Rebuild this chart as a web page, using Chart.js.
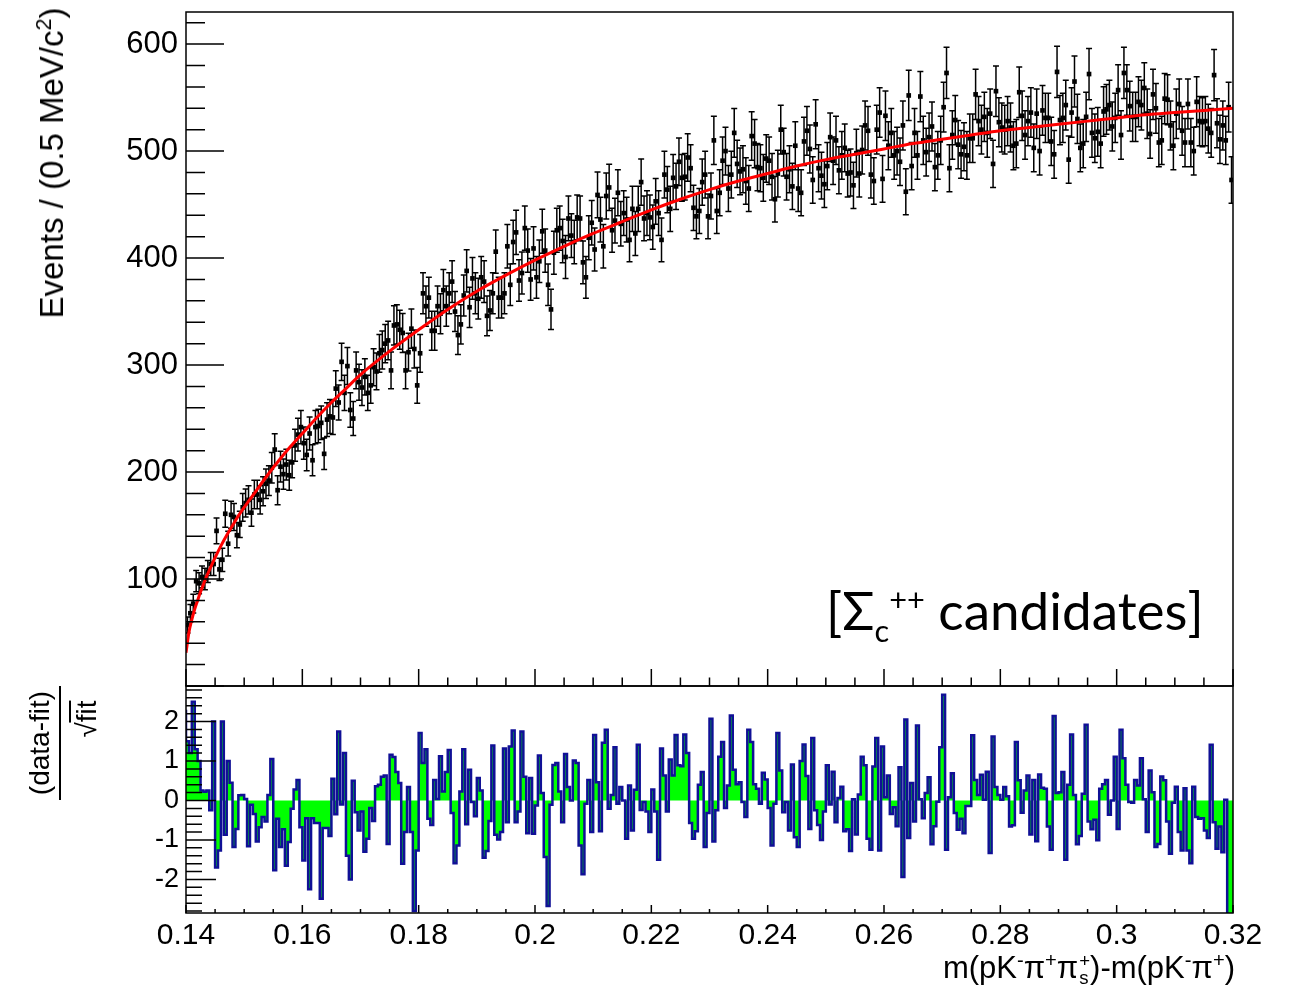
<!DOCTYPE html>
<html>
<head>
<meta charset="utf-8">
<script src="https://cdn.jsdelivr.net/npm/chart.js@4.4.1/dist/chart.umd.min.js"></script>
<style>
  body { margin: 0; background: #fff; }
  #wrap { position: relative; width: 1293px; height: 989px; font-family: "Liberation Sans", Arial, Helvetica, sans-serif; color: #000; }
  .pane { position: absolute; left: 0; }
  .rot { position: absolute; white-space: nowrap; transform: translate(-50%, -50%) rotate(-90deg); }
  sup, sub { font-size: 65%; line-height: 0; }
  .stack { display: inline-block; vertical-align: middle; line-height: 0.9; font-size: 60%; text-align: left; margin-left: 1px; }
</style>
</head>
<body>
<div id="wrap">
  <div class="pane" style="top:0;width:1293px;height:700px"><canvas id="topChart" width="1293" height="700"></canvas></div>
  <div class="pane" style="top:680px;width:1293px;height:309px"><canvas id="pullChart" width="1293" height="309"></canvas></div>

  <div class="rot" style="left:52px;top:163px;font-size:33px">Events / (0.5 MeV/c<sup>2</sup>)</div>

  <div class="rot" style="left:40px;top:743px;font-size:28px">(data-fit)</div>
  <div style="position:absolute;left:59px;top:686px;width:2px;height:114px;background:#000"></div>
  <div class="rot" style="left:87px;top:719px;font-size:28px">&radic;<span style="border-top:2px solid #000">fit</span></div>

  <div style="position:absolute;right:58px;top:950px;font-size:31px;white-space:nowrap">m(pK<sup>-</sup>&pi;<sup>+</sup>&pi;<span class="stack">+<br>s</span>)-m(pK<sup>-</sup>&pi;<sup>+</sup>)</div>

  <div style="position:absolute;left:826px;top:578px;font-family:Lato, 'Open Sans', sans-serif;font-size:53px;white-space:nowrap">[&Sigma;<sub style="font-size:58%">c</sub><sup style="font-size:58%">++</sup> candidates]</div>
</div>

<script>
// binning of the Delta-m histogram
const xMin = 0.14;
const xMax = 0.32;
const binWidth = 0.0005;

// events per bin (360 bins)
const counts = [
  57, 68, 77, 98, 96, 102, 100, 107, 114, 114, 145, 109, 118, 161, 133, 160, 158, 141, 151, 167,
  171, 174, 162, 179, 179, 174, 182, 189, 192, 204, 221, 183, 205, 198, 207, 197, 209, 225, 235, 242,
  227, 216, 236, 211, 242, 243, 246, 217, 249, 252, 251, 278, 265, 303, 274, 299, 258, 250, 295, 284,
  279, 289, 274, 281, 298, 294, 311, 314, 320, 323, 295, 337, 338, 333, 330, 295, 312, 334, 315, 281,
  311, 367, 355, 363, 332, 332, 355, 348, 370, 355, 367, 378, 350, 328, 338, 365, 388, 354, 381, 367,
  362, 382, 378, 346, 351, 367, 406, 363, 363, 367, 411, 375, 415, 424, 379, 386, 428, 407, 380, 409,
  382, 397, 425, 407, 375, 352, 405, 426, 428, 416, 401, 437, 421, 415, 438, 437, 396, 382, 419, 433,
  408, 459, 436, 411, 458, 466, 426, 435, 461, 432, 442, 436, 417, 446, 423, 446, 471, 437, 442, 438,
  429, 453, 442, 417, 478, 464, 446, 475, 467, 490, 475, 476, 494, 484, 447, 439, 444, 471, 478, 439,
  458, 510, 444, 461, 491, 500, 465, 478, 517, 488, 481, 483, 472, 465, 514, 507, 485, 484, 475, 493,
  491, 476, 455, 479, 520, 499, 476, 483, 467, 505, 465, 461, 509, 519, 502, 473, 525, 484, 477, 469,
  486, 513, 491, 510, 482, 496, 503, 479, 480, 468, 498, 479, 501, 524, 519, 478, 472, 520, 536, 474,
  533, 505, 517, 496, 500, 490, 524, 462, 552, 486, 517, 496, 551, 510, 499, 513, 523, 485, 496, 510,
  541, 573, 484, 515, 529, 506, 497, 504, 496, 512, 512, 553, 528, 520, 532, 517, 535, 488, 556, 527,
  522, 520, 528, 522, 505, 507, 555, 533, 515, 528, 536, 503, 535, 500, 538, 531, 531, 509, 497, 574,
  529, 531, 543, 492, 536, 565, 530, 503, 507, 532, 572, 517, 512, 518, 507, 537, 539, 543, 523, 531,
  557, 515, 573, 557, 542, 532, 532, 546, 543, 559, 535, 516, 553, 540, 508, 510, 549, 548, 524, 505,
  535, 544, 519, 508, 544, 508, 500, 546, 528, 527, 528, 521, 517, 571, 526, 511, 524, 510, 541, 473
];

// (data-fit)/sqrt(fit) per bin
const pulls = [
  2.3, 1.5, 1.2, 2.5, 1.3, 1.0, 0.25, 0.22, 0.25, -0.25, 2.0, -1.7, -1.27, 2.0, -0.87, 1.0, 0.45, -1.18, -0.72, 0.13,
  0.14, 0.04, -1.16, -0.11, -0.34, -1.04, -0.68, -0.42, -0.53, 0.14, 1.05, -1.77, -0.46, -1.18, -0.73, -1.65, -1.05, -0.21, 0.28, 0.52,
  -0.68, -1.52, -0.45, -2.25, -0.45, -0.57, -0.57, -2.49, -0.7, -0.7, -0.9, 0.55, -0.35, 1.75, -0.1, 1.2, -1.4, -2.0, 0.5, -0.3,
  -0.76, -0.28, -1.3, -0.97, -0.19, -0.52, 0.36, 0.4, 0.6, 0.63, -1.1, 1.16, 1.1, 0.72, 0.44, -1.6, -0.8, 0.34, -0.8, -2.8,
  -1.27, 1.71, 0.95, 1.3, -0.46, -0.62, 0.52, 0.04, 1.12, 0.23, 0.72, 1.28, -0.32, -1.59, -1.14, 0.23, 1.3, -0.6, 0.78, -0.04,
  -0.4, 0.57, 0.25, -1.45, -1.28, -0.52, 1.39, -0.87, -0.99, -0.8, 1.32, -0.55, 1.37, 1.77, -0.55, -0.28, 1.75, 0.6, -0.83, 0.57,
  -0.84, -0.13, 1.14, 0.19, -1.43, -2.67, -0.11, 0.9, 0.95, 0.23, -0.55, 1.18, 0.34, 0.0, 1.01, 0.95, -1.14, -1.87, -0.08, 0.52,
  -0.8, 1.66, 0.46, -0.78, 1.46, 1.79, -0.21, 0.14, 1.35, -0.08, 0.34, 0.0, -0.97, 0.38, -0.76, 0.27, 1.41, -0.24, -0.04, -0.28,
  -0.8, 0.28, -0.28, -1.5, 1.32, 0.63, -0.28, 1.04, 0.63, 1.66, 0.89, 0.87, 1.67, 1.2, -0.57, -0.97, -0.78, 0.4, 0.72, -1.18,
  -0.32, 2.07, -1.04, -0.25, 1.11, 1.48, -0.19, 0.38, 2.15, 0.78, 0.41, 0.46, -0.04, -0.42, 1.79, 1.48, 0.41, 0.3, -0.08, 0.7,
  0.53, -0.19, -1.14, -0.08, 1.71, 0.76, -0.3, -0.04, -0.76, 0.91, -0.93, -1.18, 1.0, 1.42, 0.62, -0.72, 1.58, -0.25, -0.62, -1.0,
  -0.28, 0.89, -0.1, 0.73, -0.55, 0.06, 0.35, -0.78, -0.73, -1.28, 0.03, -0.86, 0.15, 1.11, 0.89, -0.97, -1.25, 0.86, 1.58, -1.27,
  1.37, 0.08, 0.63, -0.34, -0.17, -0.65, 0.84, -1.94, 2.05, -0.95, 0.44, -0.53, 1.9, 0.03, -0.45, 0.19, 0.59, -1.11, -0.65, -0.03,
  1.35, 2.68, -1.25, 0.08, 0.69, -0.32, -0.74, -0.46, -0.83, -0.14, -0.14, 1.65, 0.52, 0.14, 0.65, 0.02, 0.73, -1.33, 1.62, 0.34,
  0.14, 0.02, 0.34, 0.11, -0.66, -0.63, 1.48, 0.51, -0.31, 0.25, 0.63, -0.86, 0.52, -1.03, 0.66, 0.32, 0.3, -0.66, -1.25, 2.14,
  0.19, 0.21, 0.72, -1.5, 0.4, 1.67, 0.14, -1.11, -0.9, 0.17, 1.92, -0.53, -0.73, -0.49, -1.01, 0.3, 0.41, 0.52, -0.36, 0.0,
  1.11, -0.72, 1.79, 1.07, 0.4, -0.04, -0.06, 0.52, 0.38, 1.07, 0.03, -0.8, 0.76, 0.21, -1.18, -1.1, 0.61, 0.51, -0.53, -1.35,
  -0.06, 0.35, -0.8, -1.27, 0.31, -1.27, -1.59, 0.35, -0.42, -0.46, -0.45, -0.76, -0.95, 1.41, -0.55, -1.22, -0.66, -1.31, 0.02, -2.91
];

// fitted curve, read at these points
const fitX = [0.1400, 0.1405, 0.1410, 0.1415, 0.1420, 0.1425, 0.1430, 0.1435, 0.1440, 0.1450, 0.1460, 0.1470, 0.1480, 0.1490,
  0.1500, 0.1520, 0.1540, 0.1560, 0.1580, 0.1600, 0.1625, 0.1650, 0.1675, 0.1700, 0.1750, 0.1800, 0.1850, 0.1900, 0.1950,
  0.2000, 0.2050, 0.2100, 0.2150, 0.2200, 0.2250, 0.2300, 0.2350, 0.2400, 0.2450, 0.2500, 0.2550, 0.2600, 0.2650, 0.2700,
  0.2750, 0.2800, 0.2850, 0.2900, 0.2950, 0.3000, 0.3050, 0.3100, 0.3150, 0.3200];
const fitY = [31, 50, 62, 72, 80, 88, 95, 102, 108, 120, 131, 141, 150, 159,
  167, 182, 197, 211, 224, 236, 251, 265, 278, 291, 313, 333, 352, 369, 384,
  398, 411, 423, 434, 445, 455, 464, 472, 479, 486, 492, 497, 502, 507, 511,
  515, 519, 522, 525, 528, 531, 534, 536, 538, 540];

const xTicks = [0.14, 0.16, 0.18, 0.2, 0.22, 0.24, 0.26, 0.28, 0.3, 0.32];
const eventTicks = [100, 200, 300, 400, 500, 600];
const pullTicks = [-2, -1, 0, 1, 2];

const binCenters = counts.map((_, i) => xMin + (i + 0.5) * binWidth);
const FONT = "'Liberation Sans', Arial, Helvetica, sans-serif";

// keep the plot frame exactly where the layout padding puts it
function fixWidth(s) {
  s.width = 186;
  s.paddingTop = 0;
  s.paddingBottom = 0;
}

// ROOT-like frame with inward ticks
const rootFrame = {
  id: "rootFrame",
  afterDraw(chart, args, o) {
    const { ctx, chartArea: a, scales } = chart;
    ctx.save();
    ctx.strokeStyle = "#000";
    ctx.lineWidth = 1.5;
    ctx.strokeRect(a.left, a.top, a.right - a.left, a.bottom - a.top);
    ctx.beginPath();
    const ys = scales.y;
    const ny = Math.round(o.yMajor / o.yMinor);
    for (let k = Math.ceil(ys.min / o.yMinor - 1e-9); k * o.yMinor <= ys.max + 1e-9; k++) {
      const py = ys.getPixelForValue(k * o.yMinor);
      const len = k % ny === 0 ? o.yMajorLen : o.yMinorLen;
      ctx.moveTo(a.left, py);
      ctx.lineTo(a.left + len, py);
    }
    const xs = scales.x;
    const nx = Math.round(o.xMajor / o.xMinor);
    const k0 = Math.round(xMin / o.xMinor);
    for (let k = k0; k * o.xMinor <= xMax + 1e-9; k++) {
      const px = xs.getPixelForValue(k * o.xMinor);
      const len = (k - k0) % nx === 0 ? o.xMajorLen : o.xMinorLen;
      ctx.moveTo(px, a.bottom);
      ctx.lineTo(px, a.bottom - len);
    }
    ctx.stroke();
    ctx.restore();
  }
};

// Poisson error bars on the data points
const errorBars = {
  id: "errorBars",
  beforeDatasetsDraw(chart) {
    const { ctx, chartArea: a, scales: { x, y } } = chart;
    ctx.save();
    ctx.beginPath();
    ctx.rect(a.left, a.top, a.right - a.left, a.bottom - a.top);
    ctx.clip();
    ctx.strokeStyle = "#000";
    ctx.lineWidth = 1.5;
    ctx.beginPath();
    counts.forEach((n, i) => {
      const px = x.getPixelForValue(binCenters[i]);
      const e = Math.sqrt(n);
      const lo = y.getPixelForValue(n - e);
      const hi = y.getPixelForValue(n + e);
      ctx.moveTo(px, lo); ctx.lineTo(px, hi);
      ctx.moveTo(px - 3, lo); ctx.lineTo(px + 3, lo);
      ctx.moveTo(px - 3, hi); ctx.lineTo(px + 3, hi);
    });
    ctx.stroke();
    ctx.restore();
  }
};

// Top panel: data + fit
const topCtx = document.getElementById("topChart").getContext("2d");
const topChart = new Chart(topCtx, {
  type: "line",
  data: {
    datasets: [
      {
        label: "fit",
        data: fitX.map((x, i) => ({ x: x, y: fitY[i] })),
        borderColor: "#ff0000",
        borderWidth: 3,
        pointRadius: 0,
        cubicInterpolationMode: "monotone",
        fill: false
      },
      {
        label: "data",
        data: counts.map((n, i) => ({ x: binCenters[i], y: n })),
        showLine: false,
        pointStyle: "rect",
        pointRadius: 3.3,
        pointBorderWidth: 0,
        pointBackgroundColor: "#000"
      }
    ]
  },
  options: {
    responsive: false,
    animation: false,
    events: [],
    layout: { padding: { left: 0, top: 12, right: 60, bottom: 14 } },
    plugins: {
      legend: { display: false },
      tooltip: { enabled: false },
      rootFrame: { yMajor: 100, yMinor: 20, yMajorLen: 38, yMinorLen: 19, xMajor: 0.02, xMinor: 0.005, xMajorLen: 17, xMinorLen: 8.5 }
    },
    scales: {
      x: { type: "linear", min: xMin, max: xMax, display: false },
      y: {
        type: "linear", min: 0, max: 630,
        afterFit: fixWidth,
        afterBuildTicks: (s) => { s.ticks = eventTicks.map((v) => ({ value: v })); },
        grid: { display: false, drawTicks: false },
        border: { display: false },
        ticks: { color: "#000", padding: 8, font: { family: FONT, size: 31 } }
      }
    }
  },
  plugins: [errorBars, rootFrame]
});

// Bottom panel: pull histogram
const pullPoints = pulls.map((p, i) => ({ x: xMin + i * binWidth, y: p }));
pullPoints.push({ x: xMax, y: pulls[pulls.length - 1] });

const pullCtx = document.getElementById("pullChart").getContext("2d");
const pullChart = new Chart(pullCtx, {
  type: "line",
  data: {
    datasets: [
      {
        label: "pull",
        data: pullPoints,
        stepped: "after",
        borderColor: "rgb(16,16,150)",
        borderWidth: 2.5,
        backgroundColor: "#00ff00",
        fill: "origin",
        pointRadius: 0
      }
    ]
  },
  options: {
    responsive: false,
    animation: false,
    events: [],
    layout: { padding: { left: 0, top: 6, right: 60, bottom: 0 } },
    plugins: {
      legend: { display: false },
      tooltip: { enabled: false },
      rootFrame: { yMajor: 1, yMinor: 0.2, yMajorLen: 30, yMinorLen: 16, xMajor: 0.02, xMinor: 0.005, xMajorLen: 8, xMinorLen: 4 }
    },
    scales: {
      x: {
        type: "linear", min: xMin, max: xMax,
        afterFit: (s) => { s.height = 76; s.paddingLeft = 0; s.paddingRight = 0; },
        afterBuildTicks: (s) => { s.ticks = xTicks.map((v) => ({ value: v })); },
        grid: { display: false, drawTicks: false },
        border: { display: false },
        ticks: { color: "#000", padding: 5, autoSkip: false, maxRotation: 0, font: { family: FONT, size: 30 },
          callback: (v) => String(v) }
      },
      y: {
        type: "linear", min: -2.85, max: 2.9,
        afterFit: fixWidth,
        afterBuildTicks: (s) => { s.ticks = pullTicks.map((v) => ({ value: v })); },
        grid: { display: false, drawTicks: false },
        border: { display: false },
        ticks: { color: "#000", padding: 7, font: { family: FONT, size: 27 } }
      }
    }
  },
  plugins: [rootFrame]
});
</script>
</body>
</html>
